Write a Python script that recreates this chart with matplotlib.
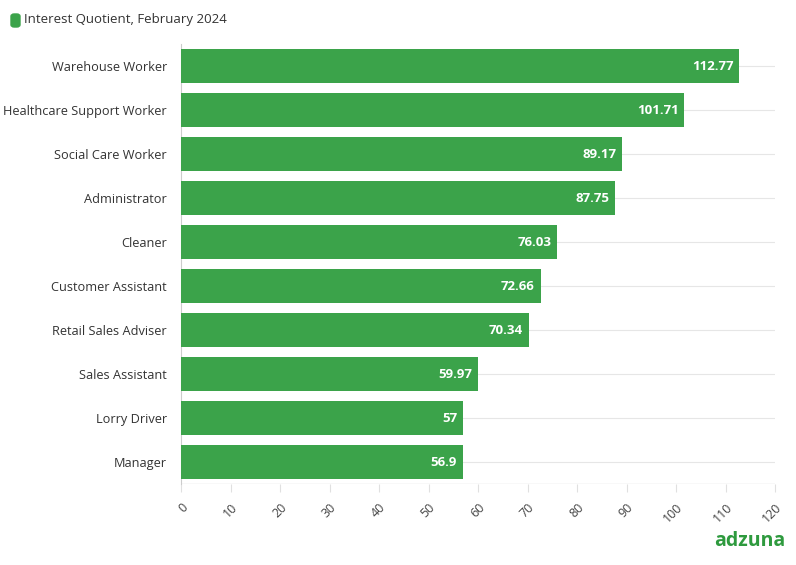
import matplotlib.pyplot as plt
from matplotlib.patches import FancyBboxPatch

jobs = ["Warehouse Worker", "Healthcare Support Worker", "Social Care Worker", "Administrator",
        "Cleaner", "Customer Assistant", "Retail Sales Adviser", "Sales Assistant",
        "Lorry Driver", "Manager"]
values = [112.77, 101.71, 89.17, 87.75, 76.03, 72.66, 70.34, 59.97, 57, 56.9]
ticks = list(range(0, 121, 10))
green = "#3ba34a"

plt.rcParams['font.family'] = ['Open Sans', 'DejaVu Sans']
fig = plt.figure(figsize=(7.96, 5.65), dpi=100)
ax = fig.add_axes([181/796, 1-484/565, (775-181)/796, (484-44)/565])

y = list(range(len(jobs)))
ax.barh(y, values, height=0.76, color=green, zorder=3)
for yi, v in zip(y, values):
    ax.text(v - 1.2, yi, f"{v:g}", color="white", fontweight="bold", fontsize=9.5,
            ha="right", va="center", zorder=4)
ax.set_yticks(y)
ax.set_yticklabels(jobs, fontsize=9.2, color="#333333")
ax.set_ylim(len(jobs) - 0.5, -0.5)
ax.set_xlim(0, 120)
ax.set_xticks(ticks)
ax.set_xticklabels([str(t) for t in ticks], rotation=45, ha="right", rotation_mode="anchor",
                   fontsize=9, color="#444444")
ax.grid(axis="y", color="#e6e6e6", lw=0.8, zorder=0)
for s in ["top", "right", "bottom"]:
    ax.spines[s].set_visible(False)
ax.spines["left"].set_color("#cccccc")
ax.tick_params(axis="y", length=0, pad=10)
ax.tick_params(axis="x", length=6, color="#e0e0e0", pad=6)
ax.axhline(len(jobs) - 0.5, color="#dddddd", lw=1)

fig.patches.append(FancyBboxPatch((11/796, 1-27/565), 9/796, 13/565,
                                  boxstyle="round,pad=0,rounding_size=0.004",
                                  transform=fig.transFigure, color=green))
fig.text(24/796, 1-20/565, "Interest Quotient, February 2024", fontsize=9.5,
         color="#333333", va="center")
fig.text(785/796, 1-541/565, "adzuna", fontsize=14, fontweight="bold",
         color="#2e9a3e", ha="right", va="center")
fig.savefig("out.png", dpi=100)
